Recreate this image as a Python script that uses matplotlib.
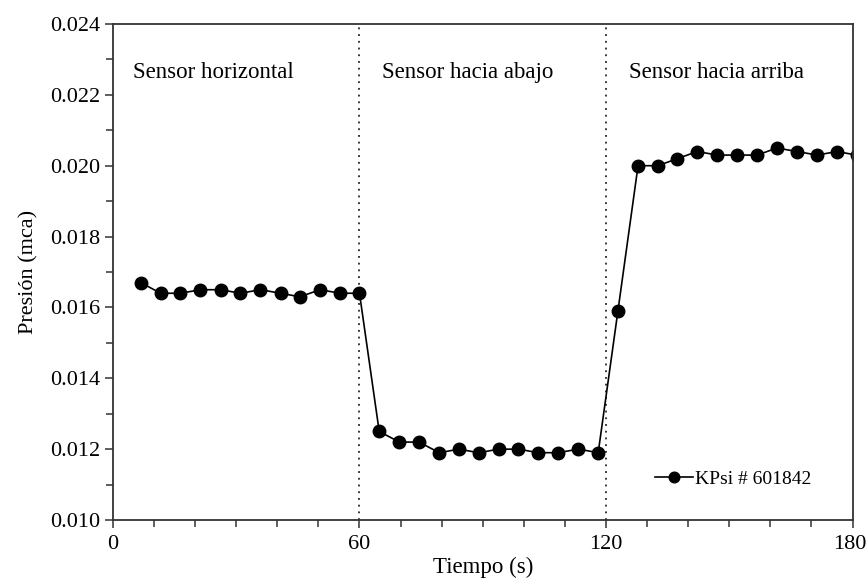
import matplotlib
matplotlib.use("Agg")
import matplotlib.pyplot as plt
import matplotlib.transforms as mtransforms
from matplotlib.ticker import MultipleLocator

plt.rcParams['font.family'] = ['Liberation Serif', 'DejaVu Serif']

# tiempo (s) y presion (mca)
tiempo = [6.8, 11.6, 16.4, 21.3, 26.2, 31.0, 35.9, 40.8, 45.5, 50.4, 55.3, 60.0,
          64.8, 69.7, 74.5, 79.4, 84.2, 89.0, 93.9, 98.7, 103.5, 108.3, 113.3, 118.1,
          122.9, 127.8, 132.6, 137.4, 142.2, 147.1, 152.0, 156.8, 161.6, 166.5, 171.4, 176.2,
          181.0]
presion = [0.0167, 0.0164, 0.0164, 0.0165, 0.0165, 0.0164, 0.0165, 0.0164, 0.0163, 0.0165, 0.0164, 0.0164,
           0.0125, 0.0122, 0.0122, 0.0119, 0.0120, 0.0119, 0.0120, 0.0120, 0.0119, 0.0119, 0.0120, 0.0119,
           0.0159, 0.0200, 0.0200, 0.0202, 0.0204, 0.0203, 0.0203, 0.0203, 0.0205, 0.0204, 0.0203, 0.0204,
           0.0203]

etiquetas = ["Sensor horizontal", "Sensor hacia abajo", "Sensor hacia arriba"]
etiqueta_x = [4.8, 65.5, 125.5]
cortes = [60, 120]
xticks = [0, 60, 120, 180]

fig = plt.figure(figsize=(8.67, 5.82), dpi=100)
ax = fig.add_axes([0.1303, 0.1065, 0.8530, 0.8523])

ax.plot(tiempo, presion, color='black', lw=1.2, marker='o', ms=9,
        label='KPsi # 601842', clip_on=True)

for c in cortes:
    ax.axvline(c, color='black', lw=1.1, ls=(0, (1.2, 3.2)))

for t, xt in zip(etiquetas, etiqueta_x):
    ax.text(xt, 0.02262, t, fontsize=16.5, ha='left', va='center')

ax.set_xlim(0, 180)
ax.set_ylim(0.010, 0.024)
ax.set_xticks(xticks)
ax.xaxis.set_minor_locator(MultipleLocator(10))
ax.yaxis.set_major_locator(MultipleLocator(0.002))
ax.yaxis.set_minor_locator(MultipleLocator(0.001))
ax.yaxis.set_major_formatter(plt.FuncFormatter(lambda v, p: f"{v:.3f}"))
ax.tick_params(which='both', direction='out', labelsize=16, color='#333333')
ax.tick_params(axis='x', which='major', pad=5)
ax.tick_params(which='major', length=6, width=1.1)
ax.tick_params(which='minor', length=5, width=1.1)
for s in ax.spines.values():
    s.set_color('#333333')
    s.set_linewidth(1.3)

ax.set_xlabel('Tiempo (s)', fontsize=16.5, labelpad=2)
ax.set_ylabel('Presión (mca)', fontsize=16, labelpad=8)

ax.legend(loc='lower right', bbox_to_anchor=(0.9685, 0.029), frameon=False,
          fontsize=14, handlelength=2.0, handletextpad=0.1, markerscale=0.85)

# el "180" queda pegado al borde: correrlo un poco a la izquierda
ultimo = ax.xaxis.get_major_ticks()[-1].label1
ultimo.set_horizontalalignment('right')
ultimo.set_transform(ultimo.get_transform() +
                     mtransforms.ScaledTranslation(14 / 100, 0, fig.dpi_scale_trans))

fig.savefig('out.png', dpi=100)
